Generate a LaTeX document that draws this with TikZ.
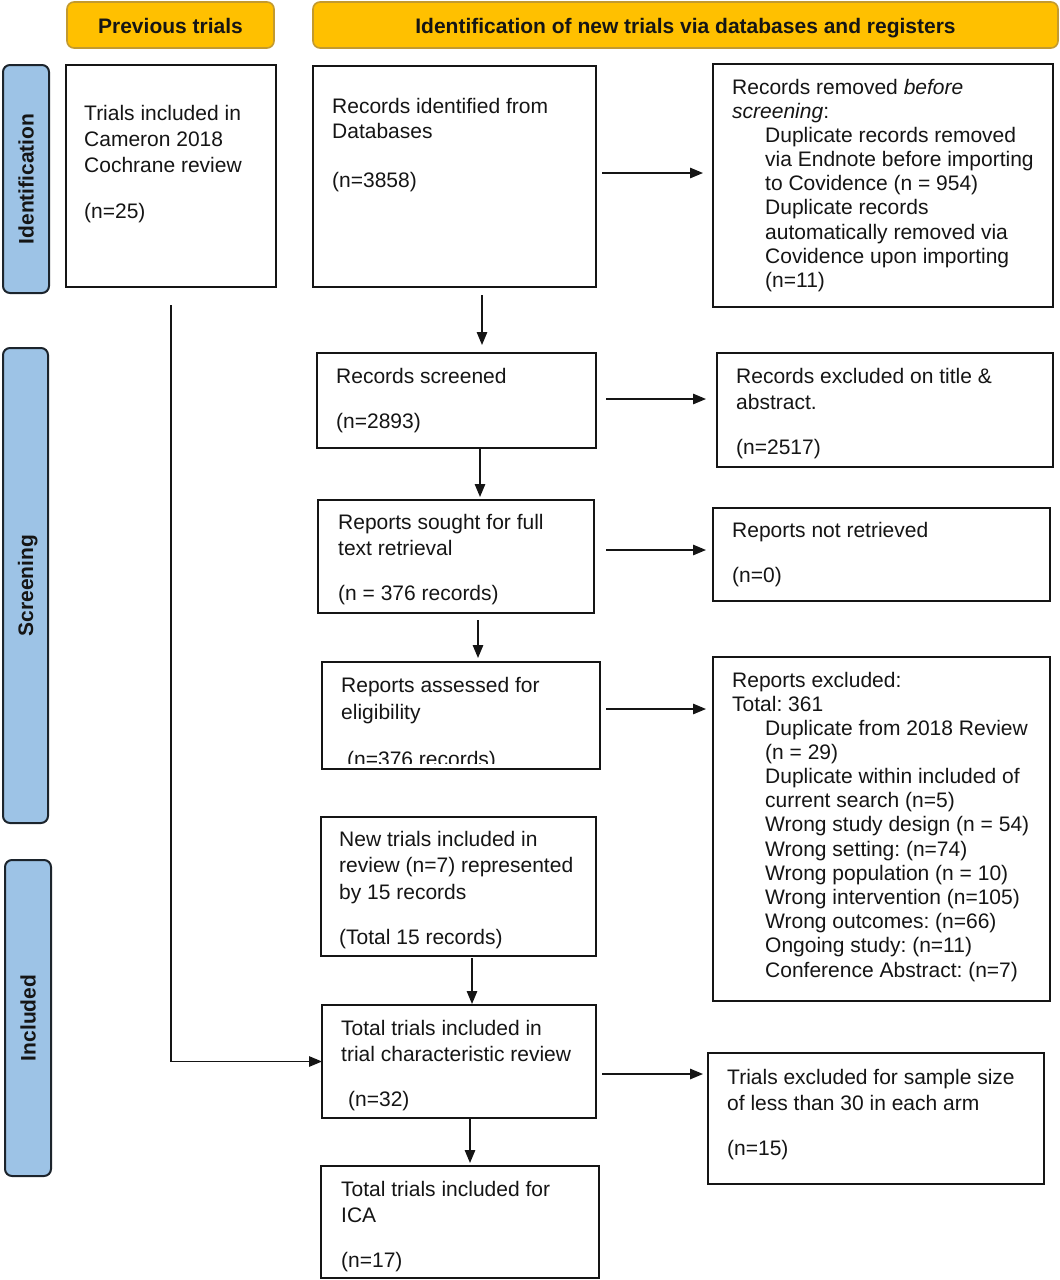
\documentclass[tikz,border=0pt]{standalone}
\usepackage{fontspec}
\setmainfont{Liberation Sans}
\usetikzlibrary{arrows.meta}
\definecolor{hdrfill}{HTML}{FFC000}
\definecolor{hdrline}{HTML}{C39A2E}
\definecolor{sidefill}{HTML}{9DC3E6}
\definecolor{sideline}{HTML}{1C242C}
\definecolor{ink}{HTML}{151515}
\frenchspacing
\newcommand\mybox[5]{\node[box, minimum width={#4-#2}, minimum height={#5-#3}] (#1) at ({(#2+#4)/2},{(#3+#5)/2}) {};}
\newcommand\mylines[5]{\foreach \t [count=\i] in {#5} {\node[tx] (#1\i) at (#2,{#3+(\i-1)*#4}) {\t};}}
\begin{document}
\begin{tikzpicture}[x=1pt,y=-1pt,
  box/.style={draw=ink, line width=2.4pt, fill=white, inner sep=0pt, outer sep=0pt},
  tx/.style={anchor=base west, inner sep=0pt, text=ink, font=\fontsize{21}{24}\selectfont},
  hdr/.style={draw=hdrline, line width=1.6pt, fill=hdrfill, rounded corners=7pt, inner sep=0pt, text height=17pt, text depth=0pt, text=ink, font=\fontsize{21}{24}\selectfont\bfseries},
  side/.style={draw=sideline, line width=2pt, fill=sidefill, rounded corners=7pt, inner sep=0pt, text height=15pt, text depth=0pt, text=ink, rotate=90, font=\fontsize{21}{24}\selectfont\bfseries},
  arr/.style={draw=ink, line width=1.4pt, -{Triangle[length=13pt,width=10.5pt]}}]
\useasboundingbox (0,0) rectangle (1060,1280);
% headers
\node[hdr, minimum width=207, minimum height=46] (h1) at (170.5,25) {Previous trials};
\node[hdr, minimum width=745, minimum height=46] (h2) at (685.5,25) {Identification of new trials via databases and registers};
% side labels
\node[side, minimum width=228, minimum height=46] (s1) at (26,179) {Identification};
\node[side, minimum width=475, minimum height=45] (s2) at (25.5,585.5) {Screening};
\node[side, minimum width=316, minimum height=46] (s3) at (28,1018) {Included};
% boxes
\mybox{prev}{66}{65}{276}{287}
\mybox{rid}{313}{66}{596}{287}
\mybox{rrem}{713}{64}{1053}{307}
\mybox{rs}{317}{353}{596}{448}
\mybox{rex}{717}{353}{1053}{467}
\mybox{rsought}{318}{500}{594}{613}
\mybox{rnr}{713}{508}{1050}{601}
\mybox{rass}{322}{662}{600}{769}
\mybox{rexc}{713}{657}{1050}{1001}
\mybox{new}{321}{817}{596}{956}
\mybox{tot}{322}{1005}{596}{1118}
\mybox{tex}{708}{1053}{1044}{1184}
\mybox{ica}{321}{1166}{599}{1278}
% texts
\mylines{pa}{84}{120}{26}{Trials included in,Cameron 2018,Cochrane review}
\node[tx] (pn) at (84,218) {(n=25)};
\mylines{ra}{332}{113}{25}{Records identified from,Databases}
\node[tx] (rn) at (332,187) {(n=3858)};
\node[tx] (rr1) at (732,94) {Records removed \textit{before}};
\node[tx] (rr2) at (732,118) {\textit{screening}:};
\mylines{rrb}{765}{142}{24.3}{Duplicate records removed,via Endnote before importing,to Covidence (n = 954),Duplicate records,automatically removed via,Covidence upon importing,(n=11)}
\node[tx] (rs1) at (336,383) {Records screened};
\node[tx] (rsn) at (336,428) {(n=2893)};
\mylines{rx}{736}{383}{26}{Records excluded on title \&,abstract.}
\node[tx] (rxn) at (736,454) {(n=2517)};
\mylines{so}{338}{529}{26}{Reports sought for full,text retrieval}
\node[tx] (son) at (338,600) {(n = 376 records)};
\node[tx] (nr1) at (732,537) {Reports not retrieved};
\node[tx] (nrn) at (732,582) {(n=0)};
\mylines{as}{341}{692}{27}{Reports assessed for,eligibility}
\coordinate (cl) at ([yshift=6pt]rass.south west);
\begin{scope}
\clip (cl) rectangle (rass.north east);
\node[tx] (asn) at (347,766) {(n=376 records)};
\end{scope}
\node[tx] (ex1) at (732,687) {Reports excluded:};
\node[tx] (ex2) at (732,711) {Total: 361};
\mylines{exb}{765}{735}{24.2}{Duplicate from 2018 Review,(n = 29),Duplicate within included of,current search (n=5),Wrong study design (n = 54),Wrong setting: (n=74),Wrong population (n = 10),Wrong intervention (n=105),Wrong outcomes: (n=66),Ongoing study: (n=11),Conference Abstract: (n=7)}
\mylines{nw}{339}{846}{26.5}{New trials included in,review (n=7) represented,by 15 records}
\node[tx] (nwn) at (339,944) {(Total 15 records)};
\mylines{tt}{341}{1035}{26}{Total trials included in,trial characteristic review}
\node[tx] (ttn) at (348,1106) {(n=32)};
\mylines{te}{727}{1084}{26}{Trials excluded for sample size,of less than 30 in each arm}
\node[tx] (ten) at (727,1155) {(n=15)};
\mylines{ic}{341}{1196}{26}{Total trials included for,ICA}
\node[tx] (icn) at (341,1267) {(n=17)};
% horizontal arrows
\draw[arr, shorten <=6pt, shorten >=10pt] ([yshift=3.5pt]rid.east) -- ([yshift=3.5pt]rid.east -| rrem.west);
\draw[arr, shorten <=10pt, shorten >=11pt] ([yshift=1.5pt]rs.east) -- ([yshift=1.5pt]rs.east -| rex.west);
\draw[arr, shorten <=12pt, shorten >=7pt] ([yshift=6.5pt]rsought.east) -- ([yshift=6.5pt]rsought.east -| rnr.west);
\draw[arr, shorten <=6pt, shorten >=7pt] ([yshift=6.5pt]rass.east) -- ([yshift=6.5pt]rass.east -| rexc.west);
\draw[arr, shorten <=6pt, shorten >=5pt] ([yshift=-12.5pt]tot.east) -- ([yshift=-12.5pt]tot.east -| tex.west);
% vertical arrows
\coordinate (v1) at ([xshift=27.5pt]rid.south);
\draw[arr, shorten <=8pt, shorten >=8pt] (v1) -- (v1 |- rs.north);
\coordinate (v2) at ([xshift=23.5pt]rs.south);
\draw[arr, shorten <=1pt, shorten >=3pt] (v2) -- (v2 |- rsought.north);
\coordinate (v3) at ([xshift=22pt]rsought.south);
\draw[arr, shorten <=7pt, shorten >=4pt] (v3) -- (v3 |- rass.north);
\coordinate (v4) at ([xshift=13.5pt]new.south);
\draw[arr, shorten <=2pt, shorten >=1pt] (v4) -- (v4 |- tot.north);
\coordinate (v5) at ([xshift=11pt]tot.south);
\draw[arr, shorten <=0pt, shorten >=3pt] (v5) -- (v5 |- ica.north);
% previous trials line
\coordinate (lp) at ([yshift=-18pt]prev.south);
\draw[arr, line width=1.2pt] (lp) |- (tot.west);
\end{tikzpicture}
\end{document}
